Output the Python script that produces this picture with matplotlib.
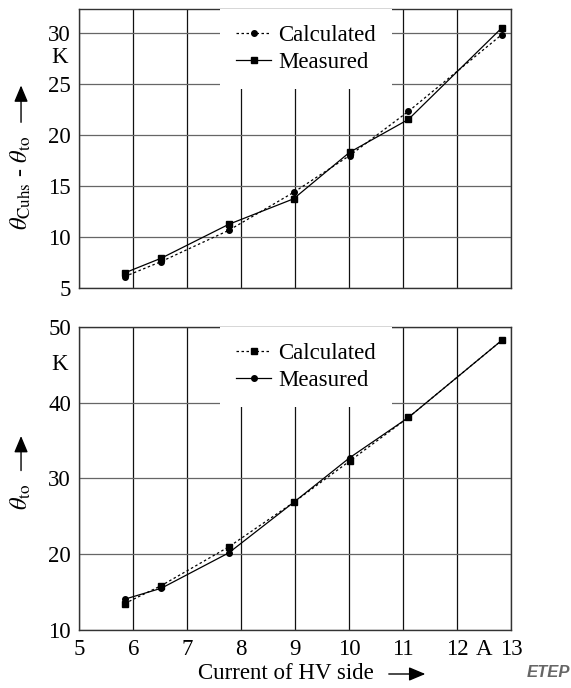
import matplotlib
matplotlib.use("Agg")
import matplotlib.pyplot as plt

plt.rcParams["font.family"] = ["Liberation Serif", "DejaVu Serif"]
plt.rcParams["mathtext.fontset"] = "stix"

# --- data ---
current = [5.84, 6.52, 7.77, 8.97, 10.01, 11.10, 12.83]

# top panel: hot-spot rise over top oil
hs_calc = [6.12, 7.60, 10.66, 14.38, 18.00, 22.34, 29.87]
hs_meas = [6.48, 7.93, 11.25, 13.75, 18.32, 21.55, 30.53]

# bottom panel: top oil rise
to_calc = [13.52, 15.89, 20.99, 26.84, 32.29, 38.04, 48.20]
to_meas = [14.09, 15.54, 20.20, 26.84, 32.73, 38.04, 48.20]

x_ticks = [5, 6, 7, 8, 9, 10, 11, 12, 13]
top_yticks = [5, 10, 15, 20, 25, 30]
bot_yticks = [10, 20, 30, 40, 50]

FS = 16.5
fig = plt.figure(figsize=(5.71, 6.88), dpi=100)
ax1 = fig.add_axes([0.1389, 0.5814, 0.756, 0.4055])
ax2 = fig.add_axes([0.1389, 0.0839, 0.756, 0.4413])


def style(ax, yticks, ylim):
    ax.set_xlim(5, 13)
    ax.set_ylim(*ylim)
    ax.set_xticks(x_ticks)
    ax.set_yticks(yticks)
    ax.xaxis.grid(True, color="#111111", linewidth=0.9)
    ax.yaxis.grid(True, color="#666666", linewidth=0.9)
    ax.set_axisbelow(True)
    ax.tick_params(length=0, pad=6, labelsize=FS)
    for s in ax.spines.values():
        s.set_linewidth(1.0)
        s.set_color("#333333")


style(ax1, top_yticks, (5, 32.38))
style(ax2, bot_yticks, (10, 50))
ax1.set_xticklabels([])

dash = (0, (2, 2))
# top: calculated dashed+circles, measured solid+squares
ax1.plot(current, hs_calc, color="black", lw=0.9, ls=dash,
         marker="o", ms=4, label="Calculated")
ax1.plot(current, hs_meas, color="black", lw=0.9, ls="-",
         marker="s", ms=4, label="Measured")

# bottom: calculated dashed+squares, measured solid+circles
ax2.plot(current, to_calc, color="black", lw=0.9, ls=dash,
         marker="s", ms=4, label="Calculated")
ax2.plot(current, to_meas, color="black", lw=0.9, ls="-",
         marker="o", ms=4, label="Measured")

for ax in (ax1, ax2):
    leg = ax.legend(loc="upper center", bbox_to_anchor=(0.525, 1.0),
                    fontsize=FS, frameon=True, fancybox=False,
                    framealpha=1, handlelength=1.53, handletextpad=0.3,
                    labelspacing=0.27, borderpad=0.7, borderaxespad=0.0)
    leg.get_frame().set_edgecolor("none")
    leg.get_frame().set_facecolor("white")
    leg.set_zorder(5)

# unit labels
ax1.text(-0.027, 27.58, "K", transform=ax1.get_yaxis_transform(),
         ha="right", va="center", fontsize=FS)
ax2.text(-0.027, 44.95, "K", transform=ax2.get_yaxis_transform(),
         ha="right", va="center", fontsize=FS)
ax2.text(12.5, -0.0274, "A", transform=ax2.get_xaxis_transform(),
         ha="center", va="top", fontsize=FS)

arrow = dict(arrowstyle="-|>,head_length=1.0,head_width=0.42",
             color="black", lw=1.0, mutation_scale=10)

# y labels with arrows
ax1.text(-0.135, 0.376, r"$\theta_{\rm Cuhs}$ - $\theta_{\rm to}$",
         transform=ax1.transAxes, rotation=90, ha="center", va="center",
         fontsize=FS + 1)
ax1.annotate("", xy=(-0.135, 0.736), xytext=(-0.135, 0.584),
             xycoords="axes fraction", textcoords="axes fraction",
             arrowprops=arrow, annotation_clip=False)

ax2.text(-0.135, 0.44, r"$\theta_{\rm to}$", transform=ax2.transAxes,
         rotation=90, ha="center", va="center", fontsize=FS + 1)
ax2.annotate("", xy=(-0.135, 0.649), xytext=(-0.135, 0.517),
             xycoords="axes fraction", textcoords="axes fraction",
             arrowprops=arrow, annotation_clip=False)

# x label with arrow
ax2.text(0.479, -0.144, "Current of HV side", transform=ax2.transAxes,
         ha="center", va="center", fontsize=FS)
ax2.annotate("", xy=(0.808, -0.144), xytext=(0.7105, -0.144),
             xycoords="axes fraction", textcoords="axes fraction",
             arrowprops=arrow, annotation_clip=False)

fig.text(0.999, 0.022, "ETEP", ha="right", va="center", fontsize=12,
         fontweight="bold", fontstyle="italic", color="#666666",
         family=["Liberation Sans", "DejaVu Sans"])

fig.savefig("out.png", dpi=100)
